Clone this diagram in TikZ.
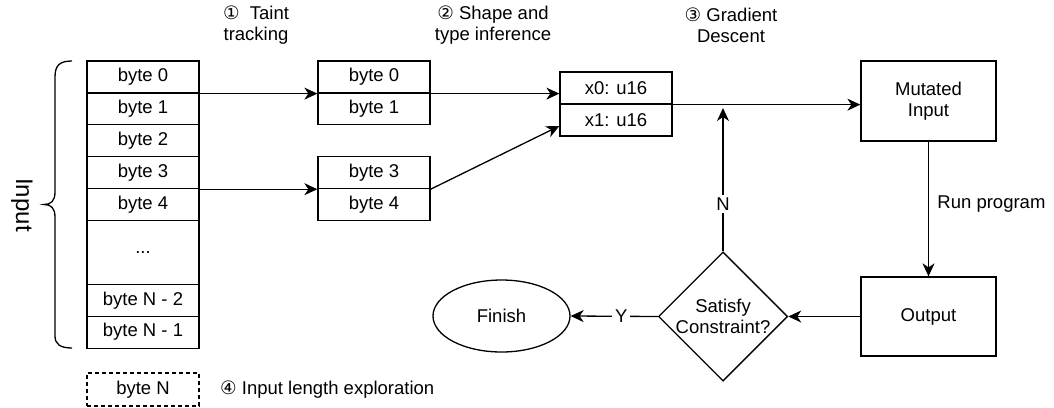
\documentclass[tikz,border=0pt]{standalone}
\usepackage{fontspec}
\setmainfont{Liberation Sans}
\newfontfamily\circfont{DejaVu Sans}
\usetikzlibrary{arrows.meta,shapes.geometric}

\tikzset{
  cell/.style={draw, line width=1.3pt, minimum width=112pt, minimum height=31.9pt, inner sep=0pt},
  bigbox/.style={draw, line width=1.3pt, minimum width=135pt, minimum height=80pt, inner sep=0pt, align=center},
  flow/.style={line width=1.3pt, -{Stealth[length=13pt, width=12pt, inset=4pt]}},
  lbl/.style={align=center, inner sep=0pt}
}

\begin{document}
\begin{tikzpicture}[x=1pt, y=-1pt, font=\fontsize{18.5}{21}\selectfont]
            \useasboundingbox (0, 0) rectangle (1054, 407);
            % input bytes
            \node[cell] (in0) at (143, 77) {byte 0};
            \node[cell] (in1) at (143, 108.8) {byte 1};
            \node[cell] (in2) at (143, 140.7) {byte 2};
            \node[cell] (in3) at (143, 172.6) {byte 3};
            \node[cell] (in4) at (143, 204.5) {byte 4};
            \node[cell, minimum height=63.8pt] (indots) at (143, 252.4) {...};
            \node[cell] (inn2) at (143, 300.3) {byte N - 2};
            \node[cell] (inn1) at (143, 332.2) {byte N - 1};
            \node[cell, dash pattern=on 4pt off 3pt, minimum height=33pt] (inn) at (143, 389.5) {byte N};
            \node[lbl, anchor=west] (lenlbl) at (220, 389.5) {{\circfont ④} Input length exploration};
            % brace
            \draw[line width=1.3pt] (72, 61) .. controls (60, 61) and (55, 65) .. (55, 77) -- (55, 192)
                .. controls (55, 201) and (51, 204.5) .. (44, 204.5)
                .. controls (51, 204.5) and (55, 208) .. (55, 217) -- (55, 336)
                .. controls (55, 344) and (60, 348) .. (72, 348);
            \node[rotate=-90, font=\fontsize{24}{27}\selectfont] (inlbl) at (22, 205) {Input};
            % tainted bytes
            \node[cell] (a0) at (374, 77) {byte 0};
            \node[cell] (a1) at (374, 108.8) {byte 1};
            \node[cell] (b3) at (374, 172.6) {byte 3};
            \node[cell] (b4) at (374, 204.5) {byte 4};
            % typed values
            \node[cell, minimum height=32pt] (x0) at (616, 88) {x0: u16};
            \node[cell, minimum height=32pt] (x1) at (616, 120) {x1: u16};
            % loop
            \node[bigbox] (mut) at (928.5, 101) {Mutated\\Input};
            \node[bigbox, minimum height=79pt] (out) at (928.5, 316.5) {Output};
            \node[draw, diamond, line width=1.3pt, minimum width=128pt, minimum height=127pt, inner sep=0pt, align=center] (check) at (723, 316.5) {Satisfy\\Constraint?};
            \node[draw, ellipse, line width=1.3pt, minimum width=137pt, minimum height=72pt] (finish) at (501.5, 316) {Finish};
            \coordinate (nmeet) at (723, 108);
            % step labels
            \node[lbl] (step1) at (256, 25) {{\circfont ①}\ \ Taint\\tracking};
            \node[lbl] (step2) at (493, 25) {{\circfont ②} Shape and\\type inference};
            \node[lbl] (step3) at (731, 25) {{\circfont ③} Gradient\\Descent};
            % connectors
            \draw[flow] (in0.south east) -- (a0.south west);
            \draw[flow] (in3.south east) -- (b3.south west);
            \draw[flow] (a0.south east) -- (a0.south east -| x0.west);
            \draw[flow] (b3.south east) -- ([yshift=-6pt]x1.west);
            \draw[flow] (x0.south east) -- (x0.south east -| mut.west);
            \draw[flow] (mut.south) -- node[pos=0.46, right, xshift=5pt] {Run program} (out.north);
            \draw[flow] (out.west) -- (check.east);
            \draw[flow] (check.west) -- node[pos=0.42, fill=white, inner sep=3pt] {Y} (finish.east);
            \draw[flow] (check.north) -- node[pos=0.33, fill=white, inner sep=3pt] {N} (nmeet);
        \end{tikzpicture}
\end{document}
